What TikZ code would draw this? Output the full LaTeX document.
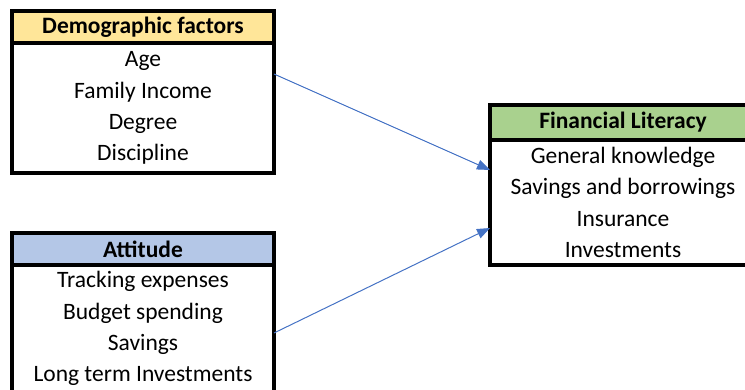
\documentclass[tikz,border=0pt]{standalone}
\usepackage{fontspec}
\setmainfont{Carlito}
\usetikzlibrary{arrows.meta}
\definecolor{hdyellow}{HTML}{FFE699}
\definecolor{hdblue}{HTML}{B4C7E7}
\definecolor{hdgreen}{HTML}{A9D18E}
\definecolor{arrowblue}{HTML}{4472C4}
\tikzset{
 box/.style={draw=black, line width=3.5pt, inner sep=0pt, outer sep=0pt, align=center},
 header/.style={box, font=\fontsize{23.5}{27}\selectfont\bfseries},
 body/.style={box, fill=white, font=\fontsize{23.5}{31.2}\selectfont},
 link/.style={draw=arrowblue, line width=1pt, -{Triangle[length=13pt,width=10pt]}}
}
\begin{document}
\begin{tikzpicture}[x=1pt,y=-1pt]
\useasboundingbox (0,0) rectangle (745,390);
\clip (0,0) rectangle (745,390);
\node[body, minimum width=262pt, minimum height=130pt] (b1) at (143,108) {Age\\Family Income\\Degree\\Discipline};
\node[header, fill=hdyellow, minimum width=262pt, minimum height=32pt] (h1) at (143,27) {Demographic factors};
\node[body, minimum width=262pt, minimum height=127pt] (b2) at (143,328.5) {Tracking expenses\\Budget spending\\Savings\\Long term Investments};
\node[header, fill=hdblue, minimum width=262pt, minimum height=32pt] (h2) at (143,249) {Attitude};
\node[body, minimum width=266pt, minimum height=125pt] (b3) at (623,202.5) {General knowledge\\Savings and borrowings\\Insurance\\Investments};
\node[header, fill=hdgreen, minimum width=266pt, minimum height=35pt] (h3) at (623,122.5) {Financial Literacy};
\draw[link] ([yshift=-31pt]b1.north east) -- ([yshift=-30pt]b3.north west);
\draw[link] ([yshift=-68pt]b2.north east) -- ([yshift=-88pt]b3.north west);
\end{tikzpicture}
\end{document}
